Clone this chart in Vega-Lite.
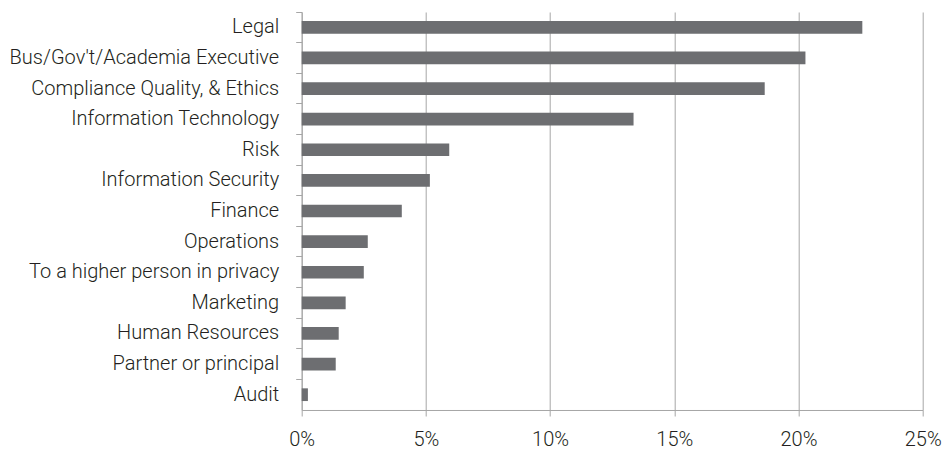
{
  "$schema": "https://vega.github.io/schema/vega-lite/v6.json",
  "width": 621,
  "height": 398,
  "autosize": "none",
  "padding": {"left": 301.7, "top": 12, "right": 19, "bottom": 42},
  "background": "white",
  "config": {"view": {"stroke": null}, "font": "Roboto"},
  "data": {
    "values": [
      {"role": "Legal", "pct": 22.57},
      {"role": "Bus/Gov't/Academia Executive", "pct": 20.28},
      {"role": "Compliance Quality, & Ethics", "pct": 18.64},
      {"role": "Information Technology", "pct": 13.36},
      {"role": "Risk", "pct": 5.94},
      {"role": "Information Security", "pct": 5.16},
      {"role": "Finance", "pct": 4.03},
      {"role": "Operations", "pct": 2.66},
      {"role": "To a higher person in privacy", "pct": 2.5},
      {"role": "Marketing", "pct": 1.77},
      {"role": "Human Resources", "pct": 1.49},
      {"role": "Partner or principal", "pct": 1.37},
      {"role": "Audit", "pct": 0.25}
    ]
  },
  "mark": {"type": "bar", "size": 12.7, "color": "#6d6e71"},
  "encoding": {
    "y": {
      "field": "role",
      "type": "nominal",
      "sort": null,
      "scale": {"paddingInner": 0, "paddingOuter": 0},
      "axis": {
        "title": null,
        "bandPosition": 0,
        "tickSize": 6,
        "tickColor": "#a6a6a6",
        "domainColor": "#a6a6a6",
        "labelFont": "Roboto",
        "labelFontWeight": 300,
        "labelFontSize": 20,
        "labelColor": "#231f20",
        "labelPadding": 17,
        "labelLimit": 400,
        "grid": false
      }
    },
    "x": {
      "field": "pct",
      "type": "quantitative",
      "scale": {"domain": [0, 25], "nice": false},
      "axis": {
        "title": null,
        "values": [0, 5, 10, 15, 20, 25],
        "labelExpr": "datum.value + '%'",
        "labelFlush": false,
        "grid": true,
        "gridColor": "#a6a6a6",
        "domainColor": "#a6a6a6",
        "tickColor": "#a6a6a6",
        "tickSize": 6,
        "labelPadding": 14,
        "labelFont": "Roboto",
        "labelFontWeight": 300,
        "labelFontSize": 20,
        "labelColor": "#231f20"
      }
    }
  }
}
